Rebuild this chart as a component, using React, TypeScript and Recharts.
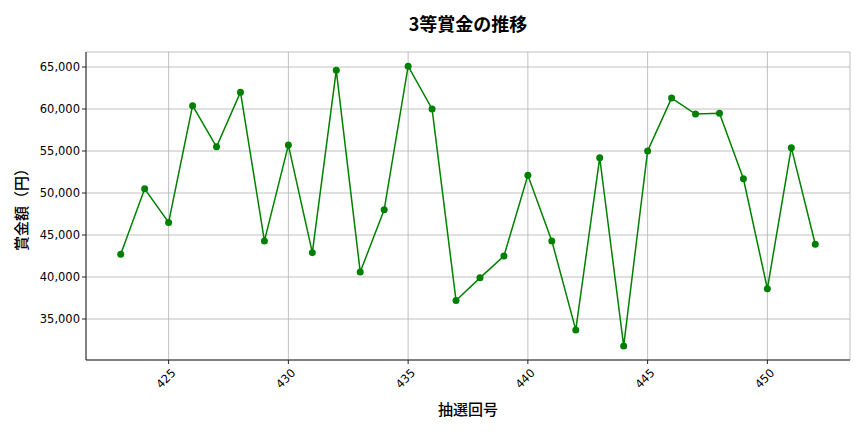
import React from 'react';
import {
    LineChart, Line, XAxis, YAxis, CartesianGrid, Label
} from 'recharts';

// draw numbers (抽選回号)
const ROUNDS = [
    423, 424, 425, 426, 427, 428, 429, 430, 431, 432,
    433, 434, 435, 436, 437, 438, 439, 440, 441, 442,
    443, 444, 445, 446, 447, 448, 449, 450, 451, 452,
];

// 3rd prize amounts (円)
const PRIZES = [
    42700, 50500, 46500, 60400, 55500, 62000, 44300, 55700, 42900, 64600,
    40600, 48000, 65100, 60000, 37200, 39900, 42500, 52100, 44300, 33700,
    54200, 31800, 55000, 61300, 59400, 59500, 51700, 38600, 55400, 43900,
];

const X_TICKS = [425, 430, 435, 440, 445, 450];
const Y_TICKS = [35000, 40000, 45000, 50000, 55000, 60000, 65000];

const FONT = '"DejaVu Sans", "Noto Sans CJK JP", sans-serif';
const CJK = '"Noto Sans CJK JP", sans-serif';

const data = ROUNDS.map((r, i) => ({ round: r, prize: PRIZES[i] }));

const XTick = (props: any) => {
    const { x, y, payload } = props;
    return (
        <g transform={`translate(${x},${y + 4})`}>
            <text
                x={0}
                y={0}
                dy={8}
                dx={3}
                textAnchor="end"
                transform="rotate(-45)"
                fontSize={11.5}
                fontFamily={FONT}
                fill="#000"
            >
                {payload.value}
            </text>
        </g>
    );
};

const App: React.FC = () => {
    return (
        <div style={{ position: 'absolute', top: 0, left: 0, width: 864, height: 432, background: '#fff' }}>
            <div
                style={{
                    position: 'absolute', top: 10, left: 0, width: 936, textAlign: 'center',
                    fontFamily: CJK, fontWeight: 700, fontSize: 18, color: '#000',
                }}
            >
                3等賞金の推移
            </div>
            <LineChart
                width={864}
                height={432}
                data={data}
                margin={{ top: 52, right: 14, bottom: 0, left: 0 }}
            >
                <CartesianGrid stroke="#b0b0b0" strokeWidth={0.8} />
                <XAxis
                    dataKey="round"
                    type="number"
                    domain={[421.55, 453.45]}
                    allowDataOverflow
                    ticks={X_TICKS}
                    tick={<XTick />}
                    tickSize={4}
                    height={72}
                    axisLine={{ stroke: '#222', strokeWidth: 1 }}
                    tickLine={{ stroke: '#222' }}
                >
                    <Label
                        value="抽選回号"
                        position="insideBottom"
                        offset={17}
                        style={{ fontFamily: CJK, fontSize: 15, fill: '#000', fontWeight: 500 }}
                    />
                </XAxis>
                <XAxis
                    xAxisId="top"
                    orientation="top"
                    dataKey="round"
                    type="number"
                    domain={[421.55, 453.45]}
                    height={0}
                    tick={false}
                    tickLine={false}
                    axisLine={{ stroke: '#222', strokeWidth: 1 }}
                />
                <YAxis
                    type="number"
                    domain={[30119, 66786]}
                    allowDataOverflow
                    ticks={Y_TICKS}
                    tickFormatter={(v: number) => v.toLocaleString('en-US')}
                    tick={{ fontSize: 11.5, fontFamily: FONT, fill: '#000' }}
                    tickSize={4}
                    width={86}
                    axisLine={{ stroke: '#222', strokeWidth: 1 }}
                    tickLine={{ stroke: '#222' }}
                >
                    <Label
                        value="賞金額（円）"
                        angle={-90}
                        position="insideLeft"
                        offset={22}
                        style={{ fontFamily: CJK, fontSize: 15, fill: '#000', fontWeight: 500, textAnchor: 'middle' }}
                    />
                </YAxis>
                <YAxis
                    yAxisId="right"
                    orientation="right"
                    type="number"
                    domain={[30119, 66786]}
                    width={0}
                    tick={false}
                    tickLine={false}
                    axisLine={{ stroke: '#222', strokeWidth: 1 }}
                />
                <Line
                    type="linear"
                    dataKey="prize"
                    stroke="#008000"
                    strokeWidth={1.5}
                    dot={{ r: 3.5, fill: '#008000', stroke: '#008000', strokeWidth: 0 }}
                    activeDot={false}
                    isAnimationActive={false}
                />
            </LineChart>
        </div>
    );
};

export default App;
